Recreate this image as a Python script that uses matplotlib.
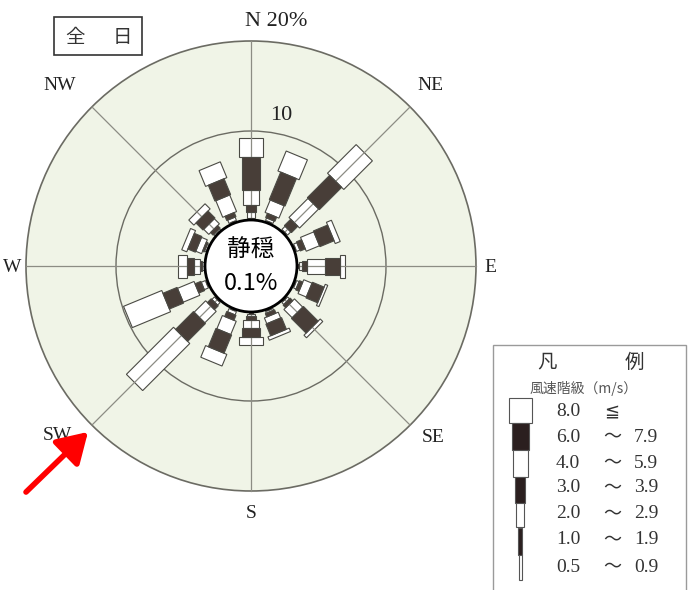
import numpy as np
import matplotlib.pyplot as plt
from matplotlib.patches import Polygon, Circle, Rectangle

# wind directions, clockwise from north
directions = ['N', 'NNE', 'NE', 'ENE', 'E', 'ESE', 'SE', 'SSE',
              'S', 'SSW', 'SW', 'WSW', 'W', 'WNW', 'NW', 'NNW']

# frequency (%) of each wind speed class per direction
f_05 = [0.1, 0.1, 0.1, 0.1, 0.1, 0.1, 0.1, 0.1, 0.1, 0.1, 0.1, 0.1, 0.1, 0.1, 0.1, 0.1]
f_10 = [0.2, 0.2, 0.2, 0.2, 0.2, 0.2, 0.2, 0.2, 0.2, 0.2, 0.2, 0.2, 0.1, 0.1, 0.1, 0.2]
f_20 = [0.7, 0.3, 0.5, 0.4, 0.4, 0.3, 0.3, 0.2, 0.3, 0.4, 0.4, 0.5, 0.2, 0.2, 0.2, 0.4]
f_30 = [0.8, 0.5, 1.0, 0.6, 0.5, 0.4, 0.4, 0.4, 0.4, 0.6, 0.6, 0.7, 0.3, 0.2, 0.4, 0.5]
f_40 = [1.6, 1.5, 3.0, 1.6, 2.0, 1.0, 1.3, 0.7, 0.9, 1.6, 1.8, 2.0, 0.6, 0.7, 0.8, 2.0]
f_60 = [3.7, 3.3, 3.5, 1.7, 1.7, 1.4, 2.3, 1.4, 1.0, 2.2, 2.8, 1.7, 0.8, 0.9, 1.1, 1.9]
f_80 = [2.1, 2.4, 4.5, 0.6, 0.5, 0.3, 0.4, 0.4, 0.9, 1.4, 7.4, 4.6, 1.0, 0.6, 0.8, 1.9]
calm = 0.1

legend_low = ['8.0', '6.0', '4.0', '3.0', '2.0', '1.0', '0.5']
legend_high = ['', '7.9', '5.9', '3.9', '2.9', '1.9', '0.9']

classes = [f_05, f_10, f_20, f_30, f_40, f_60, f_80]

# drawing scale: 1 data unit = 1 % = 9 px, rose centre at pixel (251, 266)
PPU = 9.0
CX, CY = 251, 266
R0 = 5.0          # radius where 0 % starts (edge of calm circle)
seg_w = [3, 4, 8, 10, 15, 17, 23]   # bar width per class in px
dark = [False, True, False, True, False, True, False]
DARK_ROSE = '#483e38'
DARK_LEG = '#2b1f1f'
EDGE = '#4a4a44'

serif = ['Liberation Serif', 'DejaVu Serif']
cjk = ['Noto Sans CJK JP', 'DejaVu Sans']


def P(x, y):
    return ((x - CX) / PPU, (CY - y) / PPU)


fig = plt.figure(figsize=(6.9, 5.9), dpi=100)
ax = fig.add_axes([0, 0, 1, 1])
ax.set_xlim(-CX / PPU, (690 - CX) / PPU)
ax.set_ylim(-(590 - CY) / PPU, CY / PPU)
ax.set_aspect('equal')
ax.axis('off')

# rings
ax.add_patch(Circle((0, 0), R0 + 20, fc='#f0f4e7', ec='#6b6b63', lw=1.2, zorder=1))
ax.add_patch(Circle((0, 0), R0 + 10, fc='none', ec='#6b6b63', lw=1.0, zorder=1.5))

# radial guide lines for the 8 main directions
for k in range(0, 16, 2):
    th = np.deg2rad(k * 22.5)
    ux, uy = np.sin(th), np.cos(th)
    ax.plot([R0 * ux, (R0 + 20) * ux], [R0 * uy, (R0 + 20) * uy],
            color='#8c8c84', lw=0.9, zorder=2.5)

# stacked bars
for i, d in enumerate(directions):
    th = np.deg2rad(i * 22.5)
    u = np.array([np.sin(th), np.cos(th)])
    v = np.array([np.cos(th), -np.sin(th)])
    start = R0
    for c, vals in enumerate(classes):
        end = start + vals[i]
        hw = seg_w[c] / PPU / 2
        pts = [start * u + hw * v, end * u + hw * v,
               end * u - hw * v, start * u - hw * v]
        ax.add_patch(Polygon(pts, closed=True,
                             fc=DARK_ROSE if dark[c] else 'white',
                             ec=EDGE, lw=0.8,
                             zorder=3 if dark[c] else 2))
        start = end

# calm circle
ax.add_patch(Circle((0, 0), 46 / PPU, fc='white', ec='black', lw=2, zorder=6))
ax.text(0, 1.75, '静穏', ha='center', va='center', fontsize=17, family=cjk, zorder=7)
ax.text(0, -1.9, f'{calm:.1f}%', ha='center', va='center', fontsize=17, family=cjk, zorder=7)

# compass and ring labels
labels = [('N 20%', 276, 22, 16), ('10', 281, 115, 16), ('NW', 60, 86, 14),
          ('NE', 430, 86, 14), ('W', 12, 268, 14), ('E', 490, 268, 14),
          ('SW', 57, 436, 14), ('SE', 433, 437, 14), ('S', 251, 514, 14)]
for txt, x, y, fs in labels:
    ax.text(*P(x, y), txt, ha='center', va='center', fontsize=fs,
            family=serif, color='#222222')

# title box
ax.add_patch(Rectangle(P(54, 55), 88 / PPU, 38 / PPU, fc='white', ec='#333333', lw=1.2))
ax.text(*P(75, 37), '全', ha='center', va='center', fontsize=14, family=cjk, color='#333333')
ax.text(*P(122, 37), '日', ha='center', va='center', fontsize=14, family=cjk, color='#333333')

# red pointer
ax.annotate('', xy=P(90, 430), xytext=P(24, 494),
            arrowprops=dict(arrowstyle='-|>,head_length=0.9,head_width=0.55',
                            color='#ff0000', lw=4, mutation_scale=20))

# legend panel
ax.add_patch(Rectangle(P(493, 600), 193 / PPU, 255 / PPU, fc='white', ec='#9a9a9a', lw=1))
ax.text(*P(547, 362), '凡', ha='center', va='center', fontsize=14, family=cjk, color='#333333')
ax.text(*P(634, 362), '例', ha='center', va='center', fontsize=14, family=cjk, color='#333333')
ax.text(*P(584, 388), '風速階級（m/s）', ha='center', va='center', fontsize=10,
        family=cjk, color='#555555')

row_y = [412, 437, 463, 488, 514, 540, 567]
sw_top = [398, 423, 450, 477, 503, 528, 555]
sw_bot = [423, 450, 477, 503, 527, 555, 580]
for j in range(7):
    c = 6 - j
    w = seg_w[c]
    x0, y0 = P(520 - w / 2, sw_bot[j])
    ax.add_patch(Rectangle((x0, y0), w / PPU, (sw_bot[j] - sw_top[j]) / PPU,
                           fc=DARK_LEG if dark[c] else 'white', ec='#555555', lw=0.8))
    ax.text(*P(568, row_y[j]), legend_low[j], ha='center', va='center',
            fontsize=14, family=serif, color='#333333')
    sign = '≦' if j == 0 else '～'
    ax.text(*P(612, row_y[j]), sign, ha='center', va='center',
            fontsize=13, family=['DejaVu Sans', 'Noto Sans CJK JP'], color='#333333')
    if legend_high[j]:
        ax.text(*P(646, row_y[j]), legend_high[j], ha='center', va='center',
                fontsize=14, family=serif, color='#333333')

fig.savefig('out.png', dpi=100)
